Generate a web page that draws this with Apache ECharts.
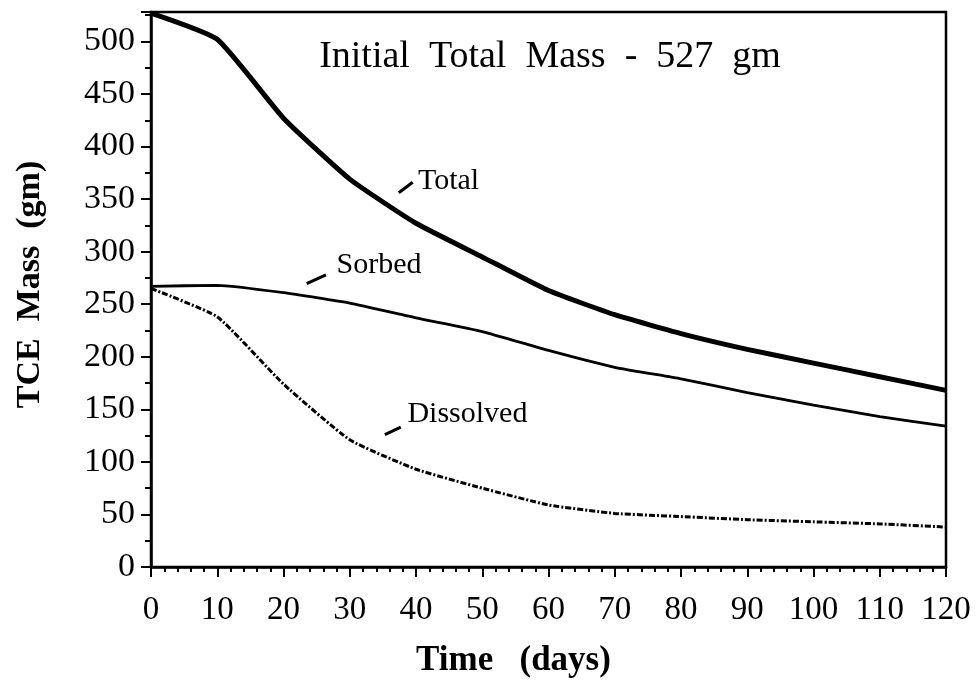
<!DOCTYPE html>
<html>
<head>
<meta charset="utf-8">
<script src="https://cdn.jsdelivr.net/npm/echarts@6/dist/echarts.min.js"></script>
<style>html,body{margin:0;padding:0;background:#fff}#c{width:976px;height:685px}</style>
</head>
<body>
<div id="c"></div>
<script>
const days = [0, 10, 20, 30, 40, 50, 60, 70, 80, 90, 100, 110, 120];
const total = [527, 502, 427, 369, 327, 295, 263, 240, 222, 207, 194, 181, 168];
const sorbed = [267, 268, 261, 251, 237, 224, 206, 190, 179, 166, 154, 143, 134];
const dissolved = [265, 238, 174, 121, 93, 75, 59, 51, 48, 45, 43, 41, 38];
const xTicks = [0, 10, 20, 30, 40, 50, 60, 70, 80, 90, 100, 110, 120];
const yTicks = [0, 50, 100, 150, 200, 250, 300, 350, 400, 450, 500];
const titleText = 'Initial  Total  Mass  -  527  gm';
const labels = [
  {text: 'Total', at: [40.3, 367], from: [37.4, 356], to: [39.5, 366]},
  {text: 'Sorbed', at: [28.0, 287], from: [23.5, 269.5], to: [26.4, 278]},
  {text: 'Dissolved', at: [38.7, 145], from: [35.3, 126], to: [37.7, 133]}
];

const F = '"Liberation Serif", "Times New Roman", serif';
const pair = arr => days.map((d, i) => [d, arr[i]]);
const chart = echarts.init(document.getElementById('c'));
const option = {
  backgroundColor: '#fff',
  animation: false,
  grid: {left: 151, right: 30, top: 12, bottom: 118, show: true, borderColor: '#000', borderWidth: 2.5},
  xAxis: {
    type: 'value', min: 0, max: 120, interval: 10,
    name: 'Time   (days)', nameLocation: 'middle', nameGap: 76,
    nameTextStyle: {fontFamily: F, fontSize: 35, fontWeight: 'bold', color: '#000', padding: [0, 70, 0, 0]},
    axisLine: {show: true, lineStyle: {color: '#000', width: 2.5}},
    axisTick: {show: true, inside: false, length: 10, lineStyle: {color: '#000', width: 2}},
    minorTick: {show: true, splitNumber: 5, length: 5, lineStyle: {color: '#000', width: 2}},
    axisLabel: {fontFamily: F, fontSize: 33, color: '#000', margin: 27,
      formatter: v => xTicks.indexOf(v) >= 0 ? String(v) : ''},
    splitLine: {show: false}, minorSplitLine: {show: false}
  },
  yAxis: {
    type: 'value', min: 0, max: 528, interval: 50,
    name: 'TCE  Mass  (gm)', nameLocation: 'middle', nameGap: 104,
    nameTextStyle: {fontFamily: F, fontSize: 34, fontWeight: 'bold', color: '#000', padding: [0, 0, 0, 10]},
    axisLine: {show: true, lineStyle: {color: '#000', width: 2.5}},
    axisTick: {show: true, inside: false, length: 10, lineStyle: {color: '#000', width: 2}},
    minorTick: {show: true, splitNumber: 2, length: 6, lineStyle: {color: '#000', width: 2}},
    axisLabel: {fontFamily: F, fontSize: 34, color: '#000', margin: 16, showMaxLabel: false,
      formatter: v => yTicks.indexOf(v) >= 0 ? String(v) : ''},
    splitLine: {show: false}, minorSplitLine: {show: false}
  },
  series: [
    {name: 'Total', type: 'line', data: pair(total), showSymbol: false, smooth: 0.15,
     lineStyle: {color: '#000', width: 5}},
    {name: 'Sorbed', type: 'line', data: pair(sorbed), showSymbol: false, smooth: 0.15,
     lineStyle: {color: '#000', width: 2.8}},
    {name: 'Dissolved', type: 'line', data: pair(dissolved), showSymbol: false, smooth: 0.15,
     lineStyle: {color: '#000', width: 3, type: [6, 2, 2, 2]}}
  ]
};
chart.setOption(option);

function drawGraphics() {
  const els = [{
    type: 'text', x: 550, y: 57, z: 10,
    style: {text: titleText, font: '38px ' + F, fill: '#000', align: 'center', verticalAlign: 'middle'},
  }];
  labels.forEach(l => {
    const p = chart.convertToPixel({gridIndex: 0}, l.at);
    const a = chart.convertToPixel({gridIndex: 0}, l.from);
    const b = chart.convertToPixel({gridIndex: 0}, l.to);
    els.push({type: 'text', x: p[0], y: p[1], z: 10,
      style: {text: l.text, font: '30px ' + F, fill: '#000', verticalAlign: 'middle', align: 'left'}});
    els.push({type: 'line', z: 10, shape: {x1: a[0], y1: a[1], x2: b[0], y2: b[1]},
      style: {stroke: '#000', lineWidth: 3}});
  });
  chart.setOption({graphic: els});
}
drawGraphics();
</script>
</body>
</html>
